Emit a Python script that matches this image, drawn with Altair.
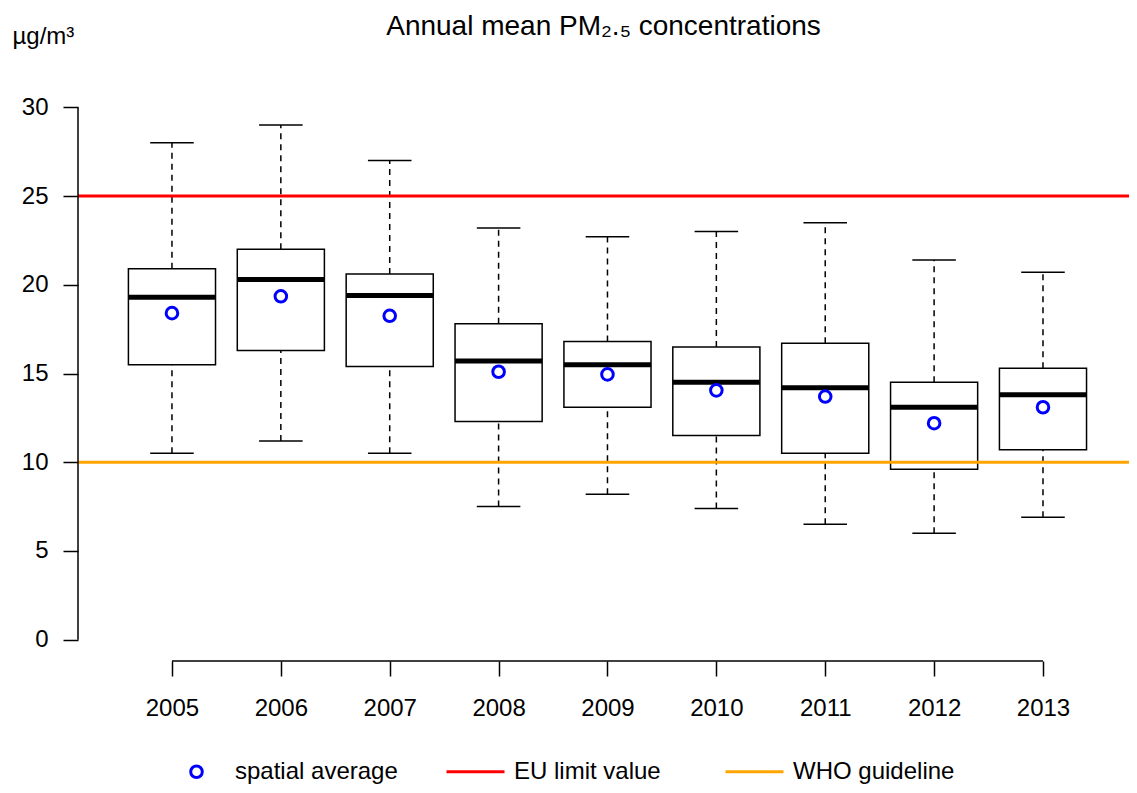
import altair as alt
import pandas as pd

# ---- data ----
years = [2005, 2006, 2007, 2008, 2009, 2010, 2011, 2012, 2013]
whisker_low = [10.5, 11.2, 10.5, 7.5, 8.2, 7.4, 6.5, 6.0, 6.9]
q1 = [15.5, 16.3, 15.4, 12.3, 13.1, 11.5, 10.5, 9.6, 10.7]
median = [19.3, 20.3, 19.4, 15.7, 15.5, 14.5, 14.2, 13.1, 13.8]
q3 = [20.9, 22.0, 20.6, 17.8, 16.8, 16.5, 16.7, 14.5, 15.3]
whisker_high = [28.0, 29.0, 27.0, 23.2, 22.7, 23.0, 23.5, 21.4, 20.7]
spatial_mean = [18.4, 19.35, 18.25, 15.1, 14.95, 14.05, 13.7, 12.2, 13.1]

threshold_names = ["EU limit value", "WHO guideline"]
threshold_values = [25, 10]

series_names = ["spatial average", "EU limit value", "WHO guideline"]
series_colors = ["#0000FF", "#FF0000", "#FFA500"]

y_ticks = [0, 5, 10, 15, 20, 25, 30]

FONT = "Liberation Sans"
W, H = 1051, 575

df = pd.DataFrame({
    "year": years, "lo": whisker_low, "q1": q1, "med": median,
    "q3": q3, "hi": whisker_high, "mean": spatial_mean,
})
thr = pd.DataFrame({"series": threshold_names, "value": threshold_values})
yaxis_df = pd.DataFrame({"y0": [min(y_ticks)], "y1": [max(y_ticks)]})
xaxis_df = pd.DataFrame({"x0": [min(years)], "x1": [max(years)]})

xscale = alt.Scale(domain=[2005 - 0.863, 2013 + 0.79], nice=False, zero=False)
yscale = alt.Scale(domain=[-1.2, 31.2], nice=False, zero=False)

color_scale = alt.Scale(domain=series_names, range=series_colors)
circle_path = "M-0.2,0A0.2,0.2 0 1,0 0.2,0A0.2,0.2 0 1,0 -0.2,0Z"
line_path = "M-1,0L1,0"
shape_scale = alt.Scale(domain=series_names, range=[circle_path, line_path, line_path])

legend = alt.Legend(
    title=None, orient="none", legendX=88, legendY=655, direction="horizontal",
    columns=3, gridAlign="all", columnPadding=42, padding=0,
    symbolSize=3364, symbolStrokeWidth=3, labelFontSize=24, labelFont=FONT,
    labelColor="black", labelOffset=8, labelLimit=400,
)

base = alt.Chart(df).transform_calculate(
    xl="datum.year - 0.4", xr="datum.year + 0.4",
    cl="datum.year - 0.2", cr="datum.year + 0.2",
)

x_axis = alt.Axis(values=years, format="d", tickSize=15, tickWidth=1.5, tickColor="black",
                  labelPadding=20, labelFontSize=24, labelFont=FONT, labelColor="black",
                  domain=False, grid=False, title=None)
y_axis = alt.Axis(values=y_ticks, tickSize=15, tickWidth=1.5, tickColor="black",
                  labelPadding=15, labelFontSize=24, labelFont=FONT, labelColor="black",
                  domain=False, grid=False, title="µg/m³", titleAngle=0,
                  titleAlign="left", titleBaseline="alphabetic", titleX=-66, titleY=-43,
                  titleFontSize=24, titleFontWeight="normal", titleFont=FONT, titleColor="black")

X = alt.X("year:Q", scale=xscale, axis=x_axis)

whisk_up = base.mark_rule(color="black", strokeWidth=1.5, strokeDash=[6, 5]).encode(
    x=X, y=alt.Y("q3:Q", scale=yscale, axis=y_axis), y2="hi:Q")
whisk_dn = base.mark_rule(color="black", strokeWidth=1.5, strokeDash=[6, 5]).encode(
    x="year:Q", y="lo:Q", y2="q1:Q")
cap_up = base.mark_rule(color="black", strokeWidth=1.5).encode(
    x="cl:Q", x2="cr:Q", y="hi:Q")
cap_dn = base.mark_rule(color="black", strokeWidth=1.5).encode(
    x="cl:Q", x2="cr:Q", y="lo:Q")
boxes = base.mark_rect(fill="white", stroke="black", strokeWidth=1.5).encode(
    x="xl:Q", x2="xr:Q", y="q1:Q", y2="q3:Q")
medians = base.mark_rule(color="black", strokeWidth=5).encode(
    x="xl:Q", x2="xr:Q", y="med:Q")

lines = alt.Chart(thr).mark_rule(strokeWidth=3).encode(
    y="value:Q",
    color=alt.Color("series:N", scale=color_scale, legend=legend),
)

means = base.transform_calculate(series="'spatial average'").mark_point(
    filled=False, strokeWidth=3, size=3364, opacity=1).encode(
    x="year:Q", y="mean:Q",
    color=alt.Color("series:N", scale=color_scale, legend=legend),
    shape=alt.Shape("series:N", scale=shape_scale, legend=legend),
)

yaxis_line = alt.Chart(yaxis_df).mark_rule(color="black", strokeWidth=1.5).encode(
    x=alt.value(0), y="y0:Q", y2="y1:Q")
xaxis_line = alt.Chart(xaxis_df).mark_rule(color="black", strokeWidth=1.5).encode(
    x="x0:Q", x2="x1:Q", y=alt.value(H))

chart = alt.layer(
    whisk_up, whisk_dn, cap_up, cap_dn, boxes, medians, lines, means, yaxis_line, xaxis_line
).properties(
    width=W, height=H, background="white",
    autosize=alt.AutoSizeParams(type="none"),
    padding={"left": 70, "top": 78, "right": 0, "bottom": 124},
    title=alt.TitleParams(text="Annual mean PM₂.₅ concentrations", fontSize=28,
                          fontWeight="normal", font=FONT, color="black",
                          anchor="middle", baseline="alphabetic", offset=0, dy=39),
).configure_view(stroke="transparent", strokeWidth=0)

chart.save("out.html", embed_options={"renderer": "svg", "actions": False})
